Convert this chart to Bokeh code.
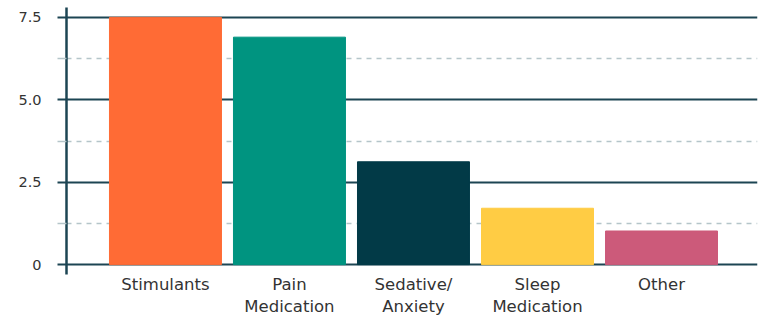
from bokeh.plotting import figure
from bokeh.models import ColumnDataSource, FixedTicker, Range1d
from bokeh.embed import file_html
from bokeh.resources import INLINE

categories = ["Stimulants", "Pain\nMedication", "Sedative/\nAnxiety", "Sleep\nMedication", "Other"]
values = [7.5, 6.9, 3.12, 1.71, 1.02]
colors = ["#FF6B35", "#009480", "#023A47", "#FFCC44", "#CC5A7A"]
y_ticks = [0, 2.5, 5, 7.5]
y_tick_labels = ["0", "2.5", "5.0", "7.5"]
y_minor = [1.25, 3.75, 6.25]

xs = list(range(len(categories)))
source = ColumnDataSource(dict(x=xs, top=values, color=colors))

p = figure(width=763, height=319, output_backend="svg", toolbar_location=None,
           x_range=Range1d(-0.798, 4.774), y_range=Range1d(-0.3, 7.8),
           min_border_left=66, min_border_right=6, min_border_top=7, min_border_bottom=42)
p.outline_line_color = None
p.background_fill_color = "white"

p.vbar(x="x", top="top", bottom=0, width=0.903, color="color", source=source)

dark = "#1C4553"
light = "#B5C5C9"
p.xgrid.grid_line_color = None
p.ygrid.ticker = FixedTicker(ticks=y_ticks, minor_ticks=y_minor)
p.ygrid.grid_line_color = dark
p.ygrid.grid_line_width = 2
p.ygrid.minor_grid_line_color = light
p.ygrid.minor_grid_line_width = 1.5
p.ygrid.minor_grid_line_dash = "5 5"
p.ygrid.level = "underlay"

ya = p.yaxis[0]
ya.ticker = FixedTicker(ticks=y_ticks, minor_ticks=y_minor)
ya.major_label_overrides = {t: l for t, l in zip(y_ticks, y_tick_labels)}
ya.axis_line_color = dark
ya.axis_line_width = 2.5
ya.major_tick_line_color = dark
ya.major_tick_line_width = 2
ya.major_tick_out = 9
ya.major_tick_in = 0
ya.minor_tick_line_color = light
ya.minor_tick_line_width = 1.5
ya.minor_tick_out = 9
ya.minor_tick_in = 0
ya.major_label_standoff = 16
ya.major_label_text_font = "DejaVu Sans"
ya.major_label_text_font_size = "14.5px"
ya.major_label_text_color = "#333333"

xa = p.xaxis[0]
xa.ticker = FixedTicker(ticks=xs)
xa.major_label_overrides = {i: c for i, c in zip(xs, categories)}
xa.axis_line_color = None
xa.major_tick_line_color = None
xa.major_tick_out = 0
xa.major_tick_in = 0
xa.minor_tick_line_color = None
xa.minor_tick_out = 0
xa.minor_tick_in = 0
xa.major_label_standoff = 0
xa.major_label_text_font = "DejaVu Sans"
xa.major_label_text_font_size = "16.5px"
xa.major_label_text_color = "#333333"

open("out.html", "w").write(file_html(p, INLINE))
